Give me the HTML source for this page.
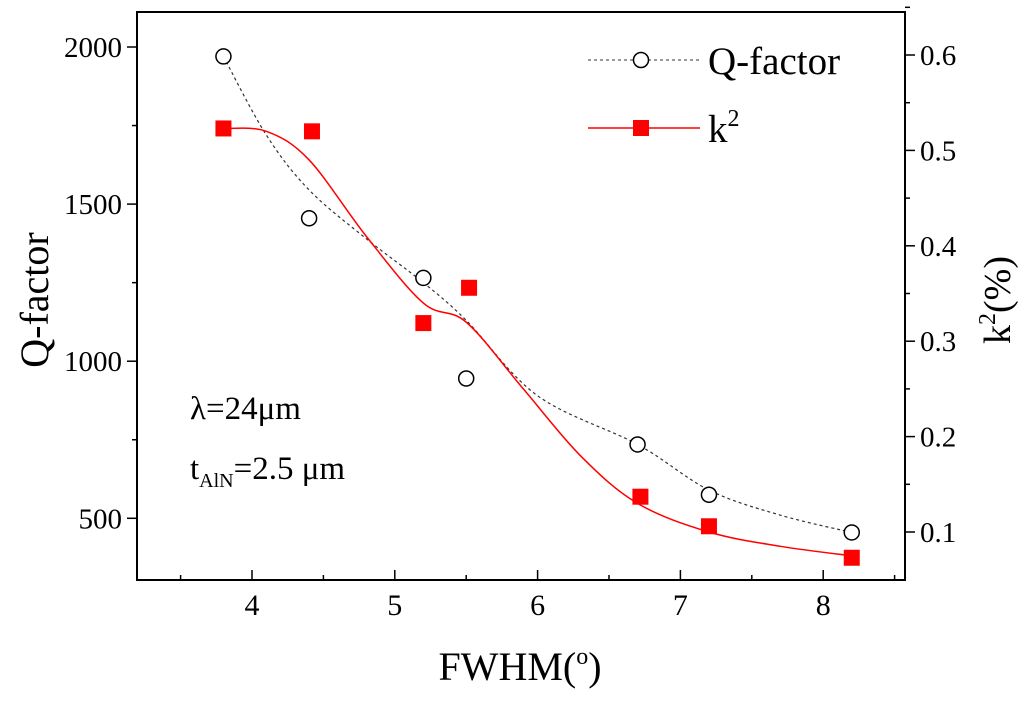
<!DOCTYPE html>
<html><head><meta charset="utf-8"><style>
body{margin:0;background:#fff}
svg text{font-family:"Liberation Serif",serif;fill:#000}
</style></head><body>
<svg id="chart" width="1024" height="697" xmlns="http://www.w3.org/2000/svg">
<rect x="137" y="12" width="768" height="568" fill="none" stroke="#000" stroke-width="2"/>
<g id="axes"></g>
<g id="series"></g>
<text x="0" y="0" font-size="40" text-anchor="middle" transform="translate(48,300) rotate(-90)">Q-factor</text>
<text x="0" y="0" font-size="38" text-anchor="middle" transform="translate(1010,300) rotate(-90)">k<tspan font-size="24" dy="-15">2</tspan><tspan dy="15">(%)</tspan></text>
<text x="520" y="680" font-size="40" text-anchor="middle">FWHM(<tspan font-size="24" dy="-16">o</tspan><tspan dy="16">)</tspan></text>
<text x="190" y="419" font-size="33">λ=24μm</text>
<text x="190" y="479" font-size="33">t<tspan font-size="20" dy="8">AlN</tspan><tspan dy="-8">=2.5 μm</tspan></text>
<g>
<line x1="588" y1="60" x2="700" y2="60" stroke="#333" stroke-dasharray="3,3"/>
<circle cx="641" cy="60" r="7.5" fill="#fff" stroke="#000" stroke-width="1.5"/>
<text x="708" y="74" font-size="39">Q-factor</text>
<line x1="588" y1="128" x2="700" y2="128" stroke="#f00" stroke-width="1.5"/>
<rect x="633" y="120" width="16" height="16" fill="#f00"/>
<text x="708" y="142" font-size="39">k<tspan font-size="24" dy="-16">2</tspan></text>
</g>
</svg>
<script>
const fwhm=[3.8,4.4,5.2,5.5,6.7,7.2,8.2];
const qValues=[1970,1455,1265,945,735,575,455];
const qFitX=[3.8,4.1,4.4,4.8,5.2,5.5,6.0,6.7,7.2,7.7,8.2];
const qFitValues=[1970,1720,1545,1390,1250,1130,890,735,590,510,455];
const k2X=[3.8,4.42,5.2,5.52,6.72,7.2,8.2];
const k2Values=[0.523,0.520,0.319,0.356,0.137,0.106,0.073];
const k2FitX=[3.8,4.1,4.4,4.8,5.2,5.5,5.9,6.3,6.7,7.2,7.7,8.2];
const k2FitValues=[0.523,0.52,0.49,0.41,0.34,0.32,0.25,0.18,0.13,0.10,0.085,0.075];
const xTicks=[4,5,6,7,8];
const qTicks=[500,1000,1500,2000];
const kTicks=[0.1,0.2,0.3,0.4,0.5,0.6];
const X=v=>252+(v-4)*142.8;
const YQ=v=>47+(2000-v)*157.1/500;
const YK=v=>532-(v-0.1)*954;
const NS="http://www.w3.org/2000/svg";
const ax=document.getElementById('axes'),sr=document.getElementById('series');
function mk(t,a,p){const e=document.createElementNS(NS,t);for(const k in a)e.setAttribute(k,a[k]);p.appendChild(e);return e;}
xTicks.forEach(v=>{const l=mk('line',{x1:X(v),x2:X(v),y1:580,y2:570,stroke:'#000','stroke-width':1.5},ax);


const t=mk('text',{x:X(v),y:615,'font-size':30,'text-anchor':'middle'},ax);t.textContent=v;


const m=mk('line',{x1:X(v-0.5),x2:X(v-0.5),y1:580,y2:575,stroke:'#000','stroke-width':1.5},ax);

});
const m2=mk('line',{x1:X(8.5),x2:X(8.5),y1:580,y2:575,stroke:'#000','stroke-width':1.5},ax);


qTicks.forEach(v=>{const l=mk('line',{x1:127,x2:137,y1:YQ(v),y2:YQ(v),stroke:'#000','stroke-width':1.5},ax);


const m=mk('line',{x1:132,x2:137,y1:YQ(v+250),y2:YQ(v+250),stroke:'#000','stroke-width':1.5},ax);


const t=mk('text',{x:122,y:YQ(v)+10,'font-size':29,'text-anchor':'end'},ax);t.textContent=v;

});
kTicks.forEach(v=>{const l=mk('line',{x1:905,x2:915,y1:YK(v),y2:YK(v),stroke:'#000','stroke-width':1.5},ax);


const m=mk('line',{x1:905,x2:910,y1:YK(v+0.05),y2:YK(v+0.05),stroke:'#000','stroke-width':1.5},ax);


const t=mk('text',{x:920,y:YK(v)+10,'font-size':29},ax);t.textContent=v.toFixed(1);

});
function spline(xs,ys){const p=xs.map((x,i)=>[x,ys[i]]);let d=`M${p[0][0]},${p[0][1]}`;
for(let i=0;i<p.length-1;i++){const a=p[Math.max(0,i-1)],b=p[i],c=p[i+1],e=p[Math.min(p.length-1,i+2)];
d+=` C${b[0]+(c[0]-a[0])/6},${b[1]+(c[1]-a[1])/6} ${c[0]-(e[0]-b[0])/6},${c[1]-(e[1]-b[1])/6} ${c[0]},${c[1]}`;}return d;}
const qp=mk('path',{d:spline(qFitX.map(X),qFitValues.map(YQ)),fill:'none',stroke:'#333','stroke-width':1.2,'stroke-dasharray':'3,3'},sr);


const kp=mk('path',{d:spline(k2FitX.map(X),k2FitValues.map(YK)),fill:'none',stroke:'#f00','stroke-width':1.5},sr);


fwhm.forEach((x,i)=>{const c=mk('circle',{cx:X(x),cy:YQ(qValues[i]),r:7.5,fill:'#fff',stroke:'#000','stroke-width':1.5},sr);

});
k2X.forEach((x,i)=>{const r=mk('rect',{x:X(x)-8,y:YK(k2Values[i])-8,width:16,height:16,fill:'#f00'},sr);

});
</script>
</body></html>
